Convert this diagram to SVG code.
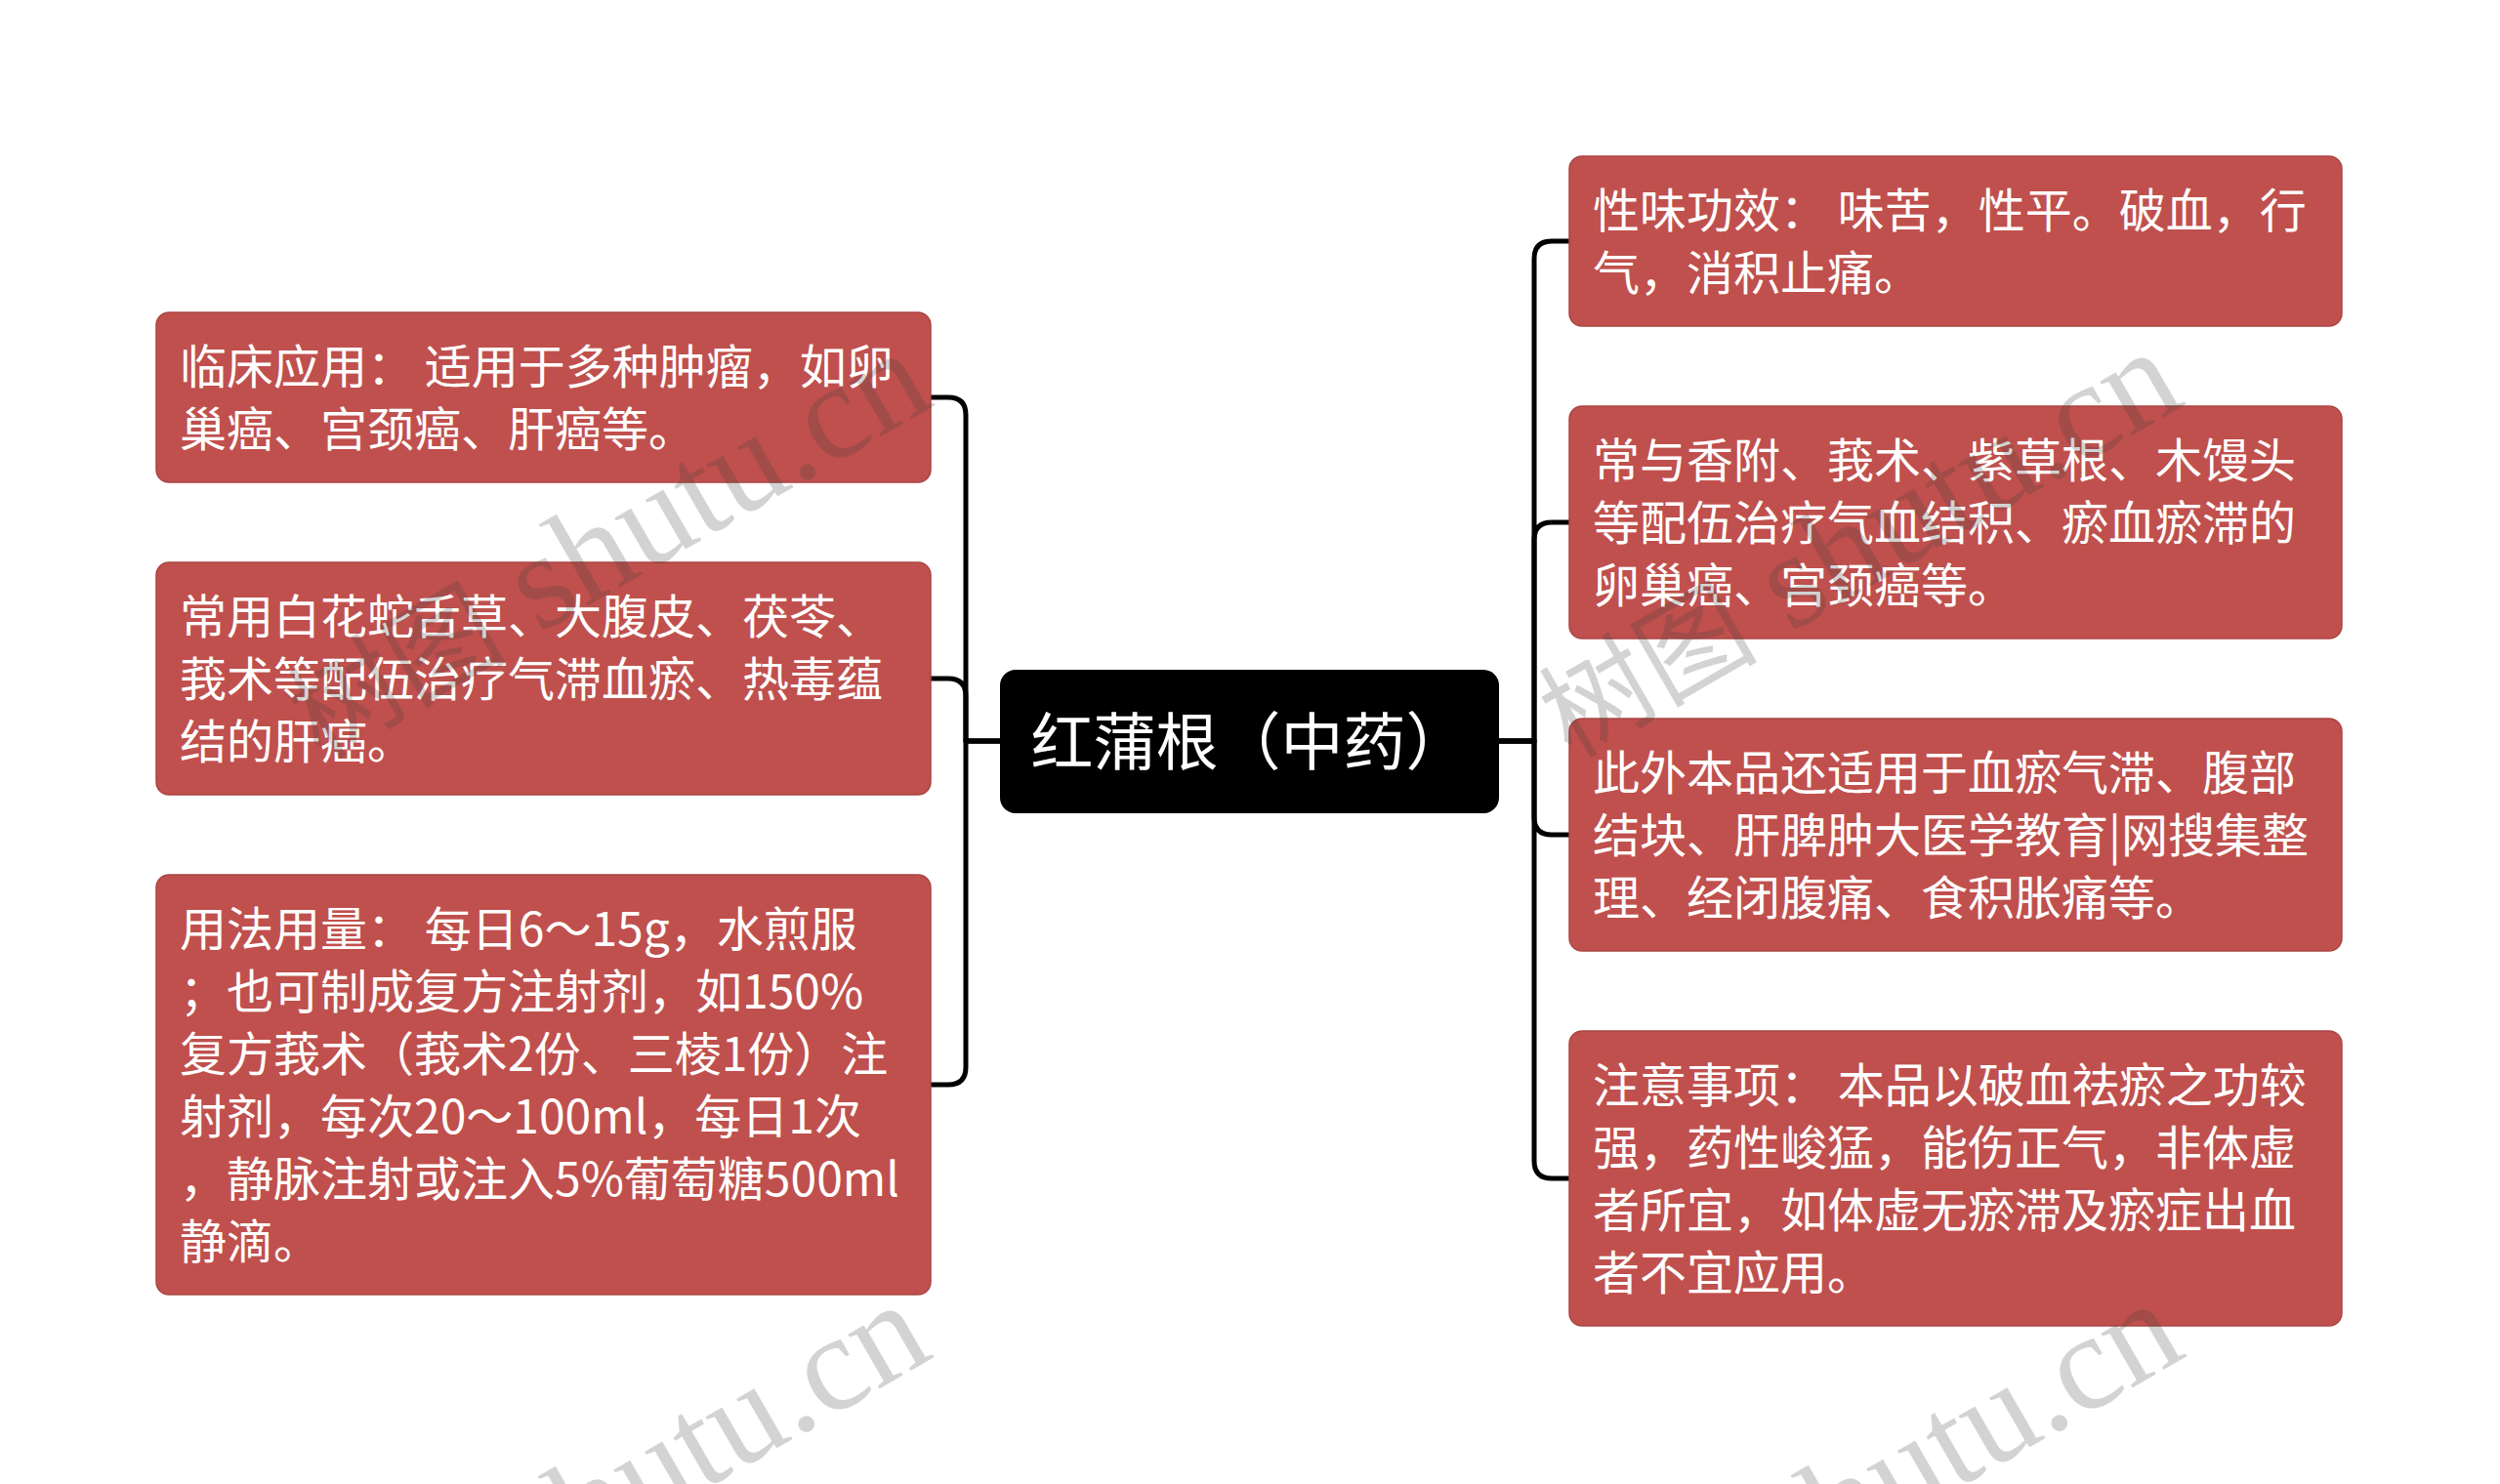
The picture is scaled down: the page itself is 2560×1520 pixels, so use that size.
<svg xmlns="http://www.w3.org/2000/svg" width="2560" height="1520" viewBox="0 0 2560 1520">
<style>
.bg{fill:#ffffff}
.node rect{fill:#C0504D;stroke:#A94543;stroke-width:1.5}
.node text{fill:#ffffff;font-family:"Noto Sans CJK SC","Noto Sans",sans-serif;font-size:48px}
.root rect{fill:#000000}
.root text{fill:#ffffff;font-family:"Noto Sans CJK SC","Noto Sans",sans-serif;font-size:64px}
.conn path{fill:none;stroke:#000000;stroke-width:5;stroke-linejoin:round}
.wm text{fill:#404040;fill-opacity:0.23;font-family:"Liberation Serif","Noto Sans CJK SC",serif;font-size:140px}
.wm .cjk{font-size:112px}
</style>
<rect class="bg" x="0" y="0" width="2560" height="1520"/>
<g id="connectors" class="conn">
<path d="M1024,759 H989 V425 Q989,407 971,407 H953"/>
<path d="M1024,759 H989 V713 Q989,695 971,695 H953"/>
<path d="M1024,759 H989 V1093 Q989,1111 971,1111 H953"/>
<path d="M1535,759 H1571 V265 Q1571,247 1589,247 H1607"/>
<path d="M1535,759 H1571 V553 Q1571,535 1589,535 H1607"/>
<path d="M1535,759 H1571 V837 Q1571,855 1589,855 H1607"/>
<path d="M1535,759 H1571 V1189 Q1571,1207 1589,1207 H1607"/>
</g>
<g id="root" class="root">
<rect x="1024" y="686" width="511" height="147" rx="16" ry="16"/>
<text x="1279.5" y="783" text-anchor="middle">红蒲根（中药）</text>
</g>
<g id="node-l1" class="node">
<rect x="160" y="320" width="793" height="174" rx="13" ry="13"/>
<text x="184" y="393">临床应用： 适用于多种肿瘤，如卵</text>
<text x="184" y="457">巢癌、宫颈癌、肝癌等。</text>
</g>
<g id="node-l2" class="node">
<rect x="160" y="576" width="793" height="238" rx="13" ry="13"/>
<text x="184" y="649">常用白花蛇舌草、大腹皮、茯苓、</text>
<text x="184" y="713">莪术等配伍治疗气滞血瘀、热毒蕴</text>
<text x="184" y="777">结的肝癌。</text>
</g>
<g id="node-l3" class="node">
<rect x="160" y="896" width="793" height="430" rx="13" ry="13"/>
<text x="184" y="969">用法用量： 每日6～15g，水煎服</text>
<text x="184" y="1033">；也可制成复方注射剂，如150%</text>
<text x="184" y="1097">复方莪术（莪术2份、三棱1份）注</text>
<text x="184" y="1161">射剂，每次20～100ml，每日1次</text>
<text x="184" y="1225">，静脉注射或注入5%葡萄糖500ml</text>
<text x="184" y="1289">静滴。</text>
</g>
<g id="node-r1" class="node">
<rect x="1607" y="160" width="791" height="174" rx="13" ry="13"/>
<text x="1631" y="233">性味功效： 味苦，性平。破血，行</text>
<text x="1631" y="297">气，消积止痛。</text>
</g>
<g id="node-r2" class="node">
<rect x="1607" y="416" width="791" height="238" rx="13" ry="13"/>
<text x="1631" y="489">常与香附、莪术、紫草根、木馒头</text>
<text x="1631" y="553">等配伍治疗气血结积、瘀血瘀滞的</text>
<text x="1631" y="617">卵巢癌、宫颈癌等。</text>
</g>
<g id="node-r3" class="node">
<rect x="1607" y="736" width="791" height="238" rx="13" ry="13"/>
<text x="1631" y="809">此外本品还适用于血瘀气滞、腹部</text>
<text x="1631" y="873">结块、肝脾肿大医学教育|网搜集整</text>
<text x="1631" y="937">理、经闭腹痛、食积胀痛等。</text>
</g>
<g id="node-r4" class="node">
<rect x="1607" y="1056" width="791" height="302" rx="13" ry="13"/>
<text x="1631" y="1129">注意事项： 本品以破血祛瘀之功较</text>
<text x="1631" y="1193">强，药性峻猛，能伤正气，非体虚</text>
<text x="1631" y="1257">者所宜，如体虚无瘀滞及瘀症出血</text>
<text x="1631" y="1321">者不宜应用。</text>
</g>
<g id="watermarks" class="wm">
<text transform="translate(826,483) rotate(-30)" x="150" y="7" text-anchor="end"><tspan class="cjk">树图</tspan> shutu.cn</text>
<text transform="translate(2107,482) rotate(-30)" x="150" y="7" text-anchor="end"><tspan class="cjk">树图</tspan> shutu.cn</text>
<text transform="translate(825,1458) rotate(-30)" x="150" y="7" text-anchor="end"><tspan class="cjk">树图</tspan> shutu.cn</text>
<text transform="translate(2108,1457) rotate(-30)" x="150" y="7" text-anchor="end"><tspan class="cjk">树图</tspan> shutu.cn</text>
</g>
</svg>
